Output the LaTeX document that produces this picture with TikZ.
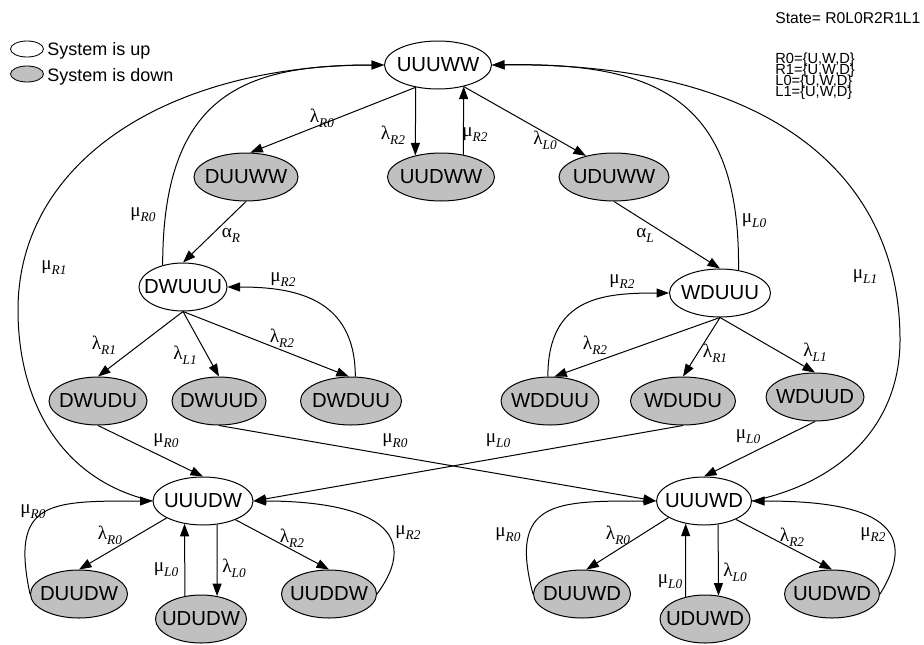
\documentclass[tikz,border=0pt]{standalone}
\usepackage{fontspec}
\setmainfont{Liberation Sans}
\newfontfamily\ratefont{Liberation Serif}
\usetikzlibrary{shapes.geometric,arrows.meta}

% rate label: greek letter with a lowered italic index
\newcommand{\rate}[2]{#1\raisebox{-3pt}{\fontsize{8}{8}\selectfont\itshape #2}}

\begin{document}
\begin{tikzpicture}[x=0.6pt,y=-0.6pt,
    up/.style={ellipse, draw, fill=white, line width=0.6pt, inner sep=0pt,
      minimum width=58.8pt, minimum height=28.8pt, font=\fontsize{12.2}{14}\selectfont,
      execute at begin node={\hbox to 0pt\bgroup\hss},
      execute at end node={\hss\egroup}},
    down/.style={up, fill=downgray},
    trans/.style={line width=0.6pt, -{Triangle[length=7.5pt,width=5.4pt]}},
    rate/.style={font=\ratefont\fontsize{11.5}{13}\selectfont, inner sep=0pt},
    key/.style={ellipse, draw, line width=0.5pt, minimum width=19.8pt, minimum height=9.6pt, inner sep=0pt},
    note/.style={anchor=base west, inner sep=0pt, font=\fontsize{9.4}{11}\selectfont},
    setnote/.style={note, font=\fontsize{8.8}{10}\selectfont}]

        % Define the grey of the down states
        \definecolor{downgray}{RGB}{192,192,192}

        \useasboundingbox (0,0) rectangle (924,644);

        % Legend
        \node[key, fill=white] (keyup) at (27,49) {};
        \node[key, fill=downgray] (keydown) at (27,74) {};
        \node[anchor=base west, inner sep=0pt, font=\fontsize{10.8}{12}\selectfont] (keyuptext) at (47,55) {System is up};
        \node[anchor=base west, inner sep=0pt, font=\fontsize{10.8}{12}\selectfont] (keydowntext) at (47,81) {System is down};

        % State notation
        \node[note] (statedef) at (775,23) {State= R0L0R2R1L1};
        \node[setnote] (setr0) at (775,63.3) {R0=\{U,W,D\}};
        \node[setnote] (setr1) at (775,74.5) {R1=\{U,W,D\}};
        \node[setnote] (setl0) at (775,85.7) {L0=\{U,W,D\}};
        \node[setnote] (setl1) at (775,96.9) {L1=\{U,W,D\}};

        % Top state - all units up or waiting
        \node[up, minimum width=64.2pt] (uuuww) at (438,65) {UUUWW};

        % First failures
        \node[down, minimum width=62.4pt] (duuww) at (246,177) {DUUWW};
        \node[down, minimum width=64.2pt] (uudww) at (441,177) {UUDWW};
        \node[down, minimum width=66pt] (uduww) at (614,177) {UDUWW};

        % Switched-over states
        \node[up, minimum width=52.8pt] (dwuuu) at (183,287) {DWUUU};
        \node[up, minimum width=60.6pt] (wduuu) at (720,293) {WDUUU};

        % Second failures
        \node[down] (dwudu) at (98,401) {DWUDU};
        \node[down, minimum width=56.4pt] (dwuud) at (219,401) {DWUUD};
        \node[down, minimum width=60.6pt] (dwduu) at (351,401) {DWDUU};
        \node[down] (wdduu) at (550,401) {WDDUU};
        \node[down, minimum width=63pt] (wdudu) at (683,401) {WDUDU};
        \node[down] (wduud) at (815,397) {WDUUD};

        % Bottom left group
        \node[up, minimum width=60pt] (uuudw) at (203,501) {UUUDW};
        \node[down, minimum width=58.2pt] (duudw) at (79,594) {DUUDW};
        \node[down, minimum width=54.6pt] (ududw) at (201,619) {UDUDW};
        \node[down, minimum width=57pt] (uuddw) at (329,594) {UUDDW};

        % Bottom right group
        \node[up, minimum width=57pt] (uuuwd) at (704,501) {UUUWD};
        \node[down, minimum width=58.2pt] (duuwd) at (582,594) {DUUWD};
        \node[down, minimum width=54pt] (uduwd) at (705,619) {UDUWD};
        \node[down, minimum width=57pt] (uudwd) at (832,594) {UUDWD};

        % Transitions from the top state
        \draw[trans] (uuuww.225) -- (duuww.80);
        \draw[trans] (uuuww.225) -- (uudww.140);
        \draw[trans] (uudww.45) -- (uuuww.320);
        \draw[trans] (uuuww.320) -- (uduww.143);
        \draw[trans] (duuww.south) -- (dwuuu.north);
        \draw[trans] (uduww.south) -- (wduuu.north);

        % Repairs back to the top state
        \draw[trans] (dwuuu.133) .. controls +(0,-175) and +(-135,0) .. (uuuww.west);
        \draw[trans] (wduuu.51) .. controls +(2,-170) and +(167,-3) .. (uuuww.east);
        \draw[trans] (uuudw.west) .. controls (60,480) and (18,400) .. (18,310)
            .. controls (18,160) and (170,65) .. (uuuww.west);
        \draw[trans] (uuuwd.east) .. controls (847,481) and (900,420) .. (900,340)
            .. controls (900,175) and (770,62) .. (uuuww.east);

        % Left switched-over state
        \draw[trans] (dwuuu.south) -- (dwudu.north);
        \draw[trans] (dwuuu.south) -- (dwuud.north);
        \draw[trans] (dwuuu.south) -- (dwduu.95);
        \draw[trans] (dwduu.80) .. controls +(0,-80) and +(65,0) .. (dwuuu.east);

        % Right switched-over state
        \draw[trans] (wduuu.south) -- (wdduu.80);
        \draw[trans] (wduuu.south) -- (wdudu.north);
        \draw[trans] (wduuu.south) -- (wduud.north);
        \draw[trans] (wdduu.95) .. controls +(0,-80) and +(-65,0) .. (wduuu.west);

        % Down to the bottom groups
        \draw[trans] (dwudu.south) -- (uuudw.north);
        \draw[trans] (dwuud.south) -- (uuuwd.west);
        \draw[trans] (wdudu.south) -- (uuudw.east);
        \draw[trans] (wduud.south) -- (uuuwd.north);

        % Bottom left transitions
        \draw[trans] (uuudw.205) -- (duudw.north);
        \draw[trans] (uuudw.301) -- (ududw.55);
        \draw[trans] (ududw.125) -- (uuudw.231);
        \draw[trans] (uuudw.330) -- (uuddw.north);
        \draw[trans] (duudw.west) .. controls +(-20,-94) and +(-103,0) .. (uuudw.west);
        \draw[trans] (uuddw.east) .. controls +(55,-75) and +(90,0) .. (uuudw.east);

        % Bottom right transitions
        \draw[trans] (uuuwd.205) -- (duuwd.80);
        \draw[trans] (uuuwd.301) -- (uduwd.60);
        \draw[trans] (uduwd.131) -- (uuuwd.231);
        \draw[trans] (uuuwd.330) -- (uudwd.north);
        \draw[trans] (duuwd.west) .. controls +(-25,-94) and +(-100,0) .. (uuuwd.west);
        \draw[trans] (uudwd.east) .. controls +(50,-80) and +(95,0) .. (uuuwd.east);

        % Rate labels - top
        \node[rate] (lamr0top) at (322,118) {\rate{λ}{R0}};
        \node[rate] (lamr2top) at (393,135) {\rate{λ}{R2}};
        \node[rate] (mur2top) at (475,135) {\rate{μ}{R2}};
        \node[rate] (laml0top) at (545,140) {\rate{λ}{L0}};
        \node[rate] (mur0top) at (143,215) {\rate{μ}{R0}};
        \node[rate] (mul0top) at (754,221) {\rate{μ}{L0}};
        \node[rate] (alphar) at (231,235) {\rate{α}{R}};
        \node[rate] (alphal) at (645,235) {\rate{α}{L}};
        \node[rate] (mur1) at (54,268) {\rate{μ}{R1}};
        \node[rate] (mul1) at (865,277) {\rate{μ}{L1}};

        % Rate labels - middle
        \node[rate] (mur2left) at (283,280) {\rate{μ}{R2}};
        \node[rate] (mur2right) at (622,282) {\rate{μ}{R2}};
        \node[rate] (lamr1left) at (104,345) {\rate{λ}{R1}};
        \node[rate] (laml1left) at (185,355) {\rate{λ}{L1}};
        \node[rate] (lamr2left) at (282,338) {\rate{λ}{R2}};
        \node[rate] (lamr2right) at (595,345) {\rate{λ}{R2}};
        \node[rate] (lamr1right) at (715,353) {\rate{λ}{R1}};
        \node[rate] (laml1right) at (815,352) {\rate{λ}{L1}};
        \node[rate] (mur0mid) at (166,441) {\rate{μ}{R0}};
        \node[rate] (mur0cross) at (395,441) {\rate{μ}{R0}};
        \node[rate] (mul0cross) at (498,441) {\rate{μ}{L0}};
        \node[rate] (mul0mid) at (748,437) {\rate{μ}{L0}};

        % Rate labels - bottom left
        \node[rate] (mur0bl) at (33,512) {\rate{μ}{R0}};
        \node[rate] (lamr0bl) at (110,535) {\rate{λ}{R0}};
        \node[rate] (mul0bl) at (166,570) {\rate{μ}{L0}};
        \node[rate] (laml0bl) at (234,568) {\rate{λ}{L0}};
        \node[rate] (lamr2bl) at (292,538) {\rate{λ}{R2}};
        \node[rate] (mur2bl) at (408,533) {\rate{μ}{R2}};

        % Rate labels - bottom right
        \node[rate] (mur0br) at (508,535) {\rate{μ}{R0}};
        \node[rate] (lamr0br) at (618,535) {\rate{λ}{R0}};
        \node[rate] (mul0br) at (670,582) {\rate{μ}{L0}};
        \node[rate] (laml0br) at (735,572) {\rate{λ}{L0}};
        \node[rate] (lamr2br) at (792,537) {\rate{λ}{R2}};
        \node[rate] (mur2br) at (873,535) {\rate{μ}{R2}};
    \end{tikzpicture}
\end{document}
